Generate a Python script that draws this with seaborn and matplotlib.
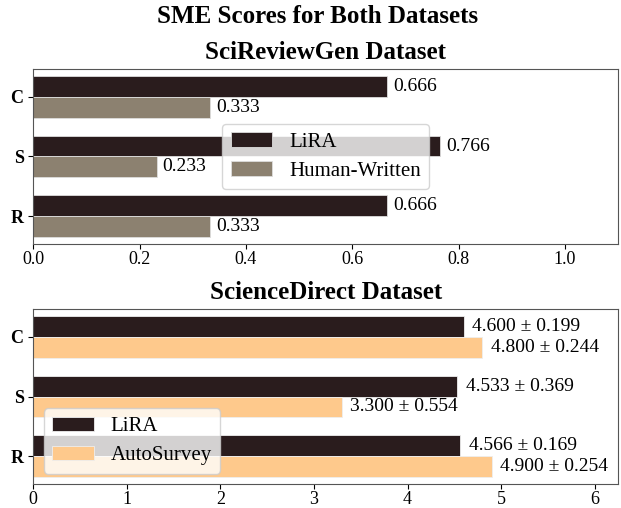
import pandas as pd
import numpy as np
import matplotlib
matplotlib.use("Agg")
import matplotlib.pyplot as plt
import seaborn as sns

metrics = ['C', 'S', 'R']

# SciReviewGen
lira_srg = [0.666, 0.766, 0.666]
human_srg = [0.333, 0.233, 0.333]

# ScienceDirect
lira_sd = [4.600, 4.533, 4.566]
lira_sd_std = [0.199, 0.369, 0.169]
auto_sd = [4.800, 3.300, 4.900]
auto_sd_std = [0.244, 0.554, 0.254]

plt.rcParams['font.family'] = ['Liberation Serif', 'DejaVu Serif']
plt.rcParams['axes.edgecolor'] = '#555555'

c_lira = '#2a1c1d'
c_human = '#8c8170'
c_auto = '#fec98c'

top_df = pd.DataFrame({
    'metric': metrics * 2,
    'score': lira_srg + human_srg,
    'method': ['LiRA'] * 3 + ['Human-Written'] * 3,
})
bot_df = pd.DataFrame({
    'metric': metrics * 2,
    'score': lira_sd + auto_sd,
    'method': ['LiRA'] * 3 + ['AutoSurvey'] * 3,
})

fig, (ax1, ax2) = plt.subplots(2, 1, figsize=(6.21, 5.08), dpi=100)
fig.subplots_adjust(left=0.0536, right=0.9952, top=0.8642, bottom=0.0472,
                    hspace=0.3714)

sns.barplot(data=top_df, y='metric', x='score', hue='method', orient='h',
            palette=[c_lira, c_human], width=0.7, saturation=1,
            edgecolor='#dddddd', linewidth=0.6, ax=ax1)
sns.barplot(data=bot_df, y='metric', x='score', hue='method', orient='h',
            palette=[c_lira, c_auto], width=0.7, saturation=1,
            edgecolor='#eeeeee', linewidth=0.6, ax=ax2)

ax1.bar_label(ax1.containers[0], labels=[f"{v:.3f}" for v in lira_srg],
              padding=4, fontsize=14)
ax1.bar_label(ax1.containers[1], labels=[f"{v:.3f}" for v in human_srg],
              padding=4, fontsize=14)
ax2.bar_label(ax2.containers[0],
              labels=[f"{m:.3f} ± {s:.3f}" for m, s in zip(lira_sd, lira_sd_std)],
              padding=6, fontsize=14)
ax2.bar_label(ax2.containers[1],
              labels=[f"{m:.3f} ± {s:.3f}" for m, s in zip(auto_sd, auto_sd_std)],
              padding=6, fontsize=14)

ax1.set_xlim(0, 1.1)
ax2.set_xlim(0, 6.25)
ax1.set_xticks(np.arange(0, 1.01, 0.2))
ax2.set_xticks(range(0, 7))

for ax, title in [(ax1, 'SciReviewGen Dataset'), (ax2, 'ScienceDirect Dataset')]:
    ax.set_ylim(2.47, -0.47)
    ax.set_title(title, fontsize=18, fontweight='bold', pad=7)
    ax.set_xlabel('')
    ax.set_ylabel('')
    ax.tick_params(axis='x', labelsize=13, pad=1.5)
    ax.tick_params(axis='y', labelsize=13)
    for lab in ax.get_yticklabels():
        lab.set_fontweight('bold')

ax1.legend(loc='center', fontsize=15, title=None, labelspacing=0.45)
ax2.legend(loc='lower left', fontsize=15, title=None, labelspacing=0.45)

fig.suptitle('SME Scores for Both Datasets', fontsize=18, fontweight='bold',
             x=0.512, y=0.954, va='baseline')

plt.savefig('out.png', dpi=100)
